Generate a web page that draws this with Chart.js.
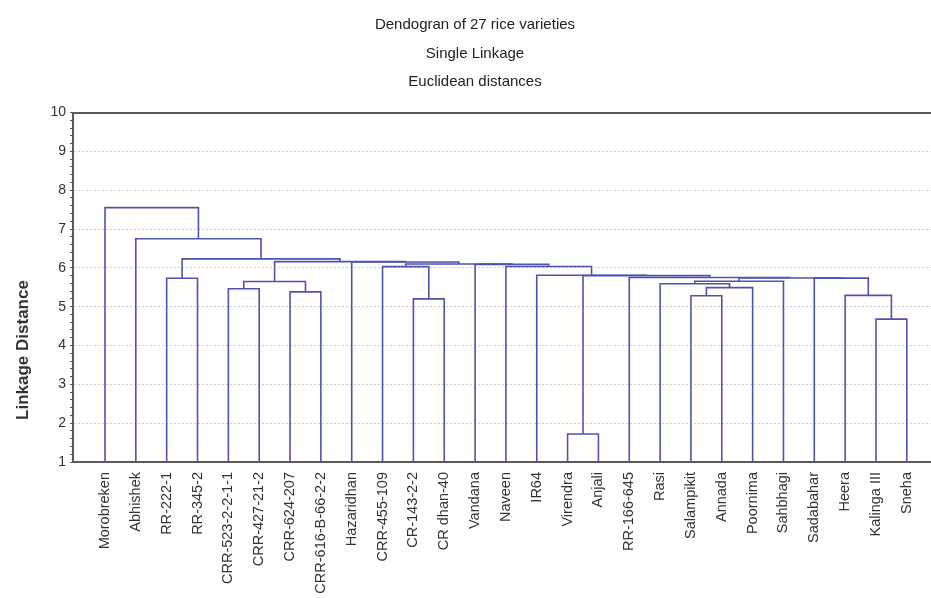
<!DOCTYPE html>
<html>
<head>
<meta charset="utf-8">
<script src="https://cdn.jsdelivr.net/npm/chart.js@4.4.1/dist/chart.umd.min.js"></script>
<style>
  html, body { margin: 0; padding: 0; background: #fff; overflow: hidden; }
  #wrap { width: 931px; height: 598px; overflow: hidden; }
</style>
</head>
<body>
<div id="wrap"><canvas id="dendro" width="950" height="598"></canvas></div>
<script>
const titleLines = ["Dendogran of 27 rice varieties", "Single Linkage", "Euclidean distances"];
const yTitle = "Linkage Distance";

const leaves = [
  "Morobreken", "Abhishek", "RR-222-1", "RR-345-2", "CRR-523-2-2-1-1", "CRR-427-21-2",
  "CRR-624-207", "CRR-616-B-66-2-2", "Hazaridhan", "CRR-455-109", "CR-143-2-2", "CR dhan-40",
  "Vandana", "Naveen", "IR64", "Virendra", "Anjali", "RR-166-645", "Rasi", "Salampikit",
  "Annada", "Poornima", "Sahbhagi", "Sadabahar", "Heera", "Kalinga III", "Sneha"
];

// merge k makes node 27+k; ids below 27 are leaves
const mergeLeft   = [15, 25, 10, 19, 24, 6, 4, 30, 18, 33, 35, 2, 23, 37, 17, 27, 14, 9, 13, 12, 44, 8, 36, 38, 1, 0];
const mergeRight  = [16, 26, 11, 20, 28, 7, 5, 21, 34, 32, 22, 3, 31, 39, 40, 41, 42, 29, 43, 45, 46, 47, 48, 49, 50, 51];
const mergeHeight = [1.72, 4.68, 5.20, 5.28, 5.29, 5.38, 5.46, 5.49, 5.59, 5.65, 5.655, 5.73, 5.735, 5.74, 5.75,
                     5.80, 5.81, 6.03, 6.035, 6.09, 6.10, 6.15, 6.16, 6.23, 6.75, 7.55];

const yMin = 1, yMax = 10;
const yMinorStep = 0.2;

const isMajor = v => Math.abs(v - Math.round(v)) < 1e-6;

// dendrogram layout: leaf i sits at x = i, a merge sits midway between its children
const nodeX = leaves.map((_, i) => i);
const nodeY = leaves.map(() => yMin);
const datasets = mergeHeight.map((h, k) => {
  const l = mergeLeft[k], r = mergeRight[k];
  const ds = {
    data: [
      { x: nodeX[l], y: nodeY[l] },
      { x: nodeX[l], y: h },
      { x: nodeX[r], y: h },
      { x: nodeX[r], y: nodeY[r] }
    ],
    showLine: true,
    borderColor: "#4f53b0",
    borderWidth: 1.6,
    pointRadius: 0,
    tension: 0,
    fill: false
  };
  nodeX.push((nodeX[l] + nodeX[r]) / 2);
  nodeY.push(h);
  return ds;
});

const yTitlePlugin = {
  id: "yTitle",
  afterDraw(chart) {
    const ctx = chart.ctx;
    ctx.save();
    ctx.translate(23, 350);
    ctx.rotate(-Math.PI / 2);
    ctx.font = 'bold 17px "Liberation Sans"';
    ctx.fillStyle = "#333";
    ctx.textAlign = "center";
    ctx.textBaseline = "middle";
    ctx.fillText(yTitle, 0, 0);
    ctx.restore();
  }
};

Chart.defaults.font.family = '"Liberation Sans", Arial, sans-serif';

const xMin = -1.0374, xMax = 27.40;

new Chart(document.getElementById("dendro"), {
  type: "scatter",
  data: { datasets },
  plugins: [yTitlePlugin],
  options: {
    responsive: false,
    animation: false,
    layout: { padding: 0 },
    plugins: {
      legend: { display: false },
      tooltip: { enabled: false },
      title: {
        display: true,
        text: titleLines,
        color: "#222",
        font: { size: 15, weight: "normal", lineHeight: 1.9 },
        padding: { top: 11, bottom: 16 }
      }
    },
    scales: {
      x: {
        type: "linear",
        position: "bottom",
        min: xMin,
        max: xMax,
        grid: { display: false },
        border: { display: true, color: "#5a5a5a", width: 2 },
        afterBuildTicks: s => { s.ticks = leaves.map((_, i) => ({ value: i })); },
        afterFit: s => { s.height = 136; },
        ticks: {
          autoSkip: false,
          minRotation: 90,
          maxRotation: 90,
          padding: 2,
          color: "#333",
          font: { size: 14.5 },
          callback: v => leaves[v] ?? ""
        }
      },
      x2: {
        type: "linear",
        position: "top",
        min: xMin,
        max: xMax,
        grid: { display: false },
        ticks: { display: false },
        border: { display: true, color: "#5a5a5a", width: 2 },
        afterFit: s => { s.height = 0; }
      },
      y: {
        type: "linear",
        min: yMin,
        max: yMax,
        afterBuildTicks: s => {
          const t = [];
          for (let v = yMin; v <= yMax + 1e-6; v += yMinorStep) t.push({ value: Math.round(v * 10) / 10 });
          s.ticks = t;
        },
        afterFit: s => { s.width = 73; },
        grid: {
          color: ctx => isMajor(ctx.tick.value) ? "#cdcdcd" : "rgba(0,0,0,0)",
          tickColor: "#555",
          tickLength: 3,
          lineWidth: 1
        },
        border: { display: true, color: "#5a5a5a", width: 2, dash: [2, 2] },
        ticks: {
          autoSkip: false,
          padding: 4,
          color: "#333",
          font: { size: 14 },
          callback: v => isMajor(v) ? String(Math.round(v)) : ""
        }
      }
    }
  }
});
</script>
</body>
</html>
